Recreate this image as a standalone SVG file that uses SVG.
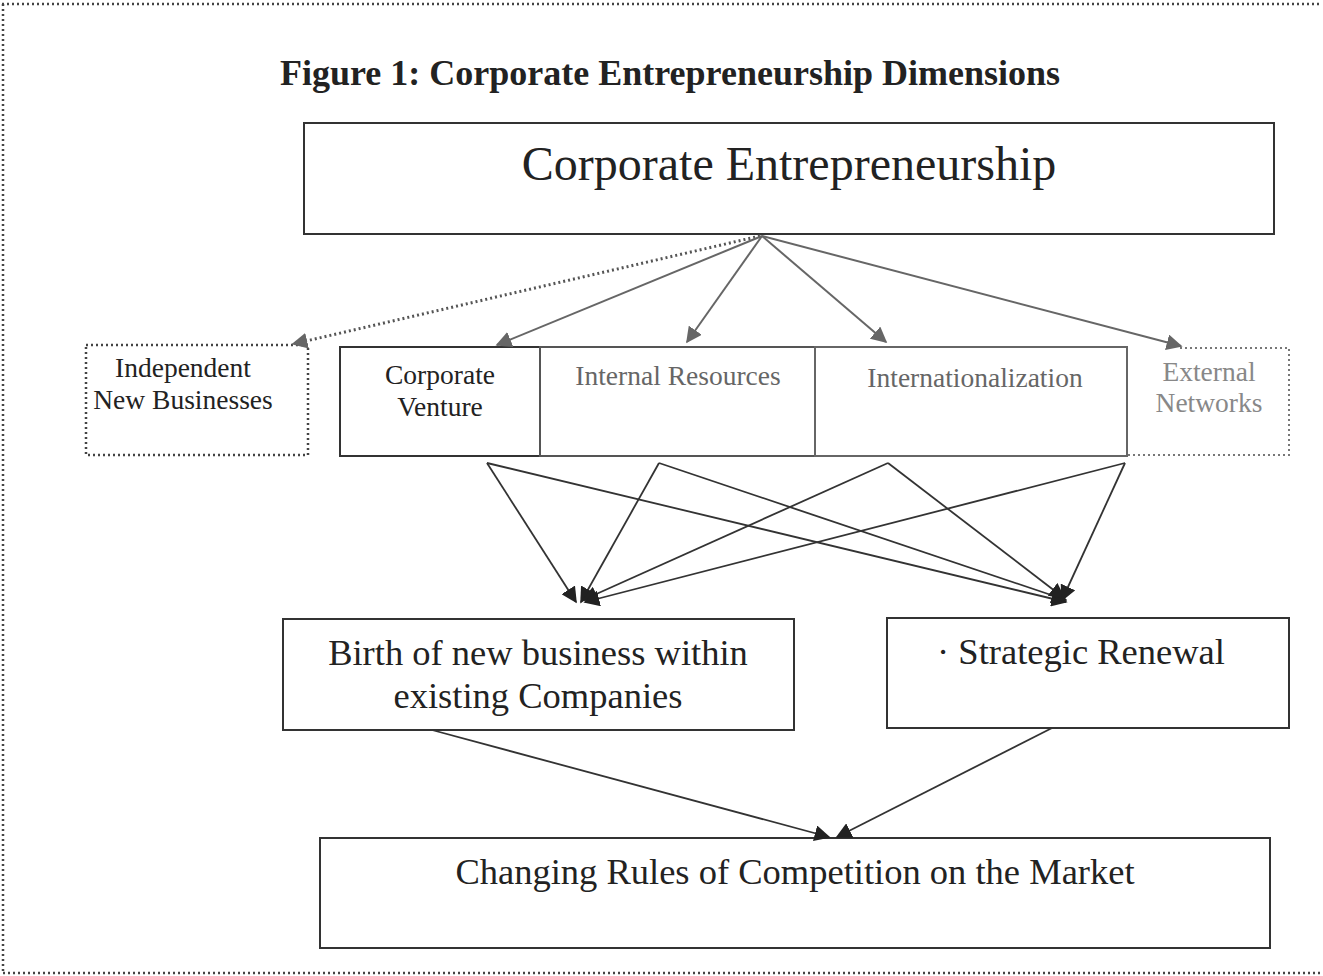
<svg xmlns="http://www.w3.org/2000/svg" width="1323" height="976" viewBox="0 0 1323 976">
<defs>
<style>
.box{fill:#fff;stroke:#333;stroke-width:2}
.dot{fill:none;stroke:#444;stroke-width:2.5;stroke-dasharray:2 3}
.t{font-family:"Liberation Serif",serif;fill:#222;text-anchor:middle}
.s{font-size:27.5px}
.m{font-size:36.5px}
.g{fill:#666}
.lg{fill:#888}
.fan{stroke:#666;stroke-width:2;fill:none}
.x{stroke:#333;stroke-width:1.8;fill:none}
</style>
<marker id="ad" viewBox="0 0 10 10" refX="9" refY="5" markerWidth="16" markerHeight="16" markerUnits="userSpaceOnUse" orient="auto"><path d="M0,0L10,5L0,10z" fill="#222"/></marker>
<marker id="agb" viewBox="0 0 10 10" refX="9" refY="5" markerWidth="16" markerHeight="16" markerUnits="userSpaceOnUse" orient="auto"><path d="M0,0L10,5L0,10z" fill="#666"/></marker>
</defs>
<rect width="1323" height="976" fill="#fff"/>
<g id="frame">
<line x1="2" y1="4" x2="1320" y2="4" class="dot"/>
<line x1="3" y1="4" x2="3" y2="973" class="dot"/>
<line x1="3" y1="973" x2="1320" y2="973" class="dot"/>
</g>
<text class="t" x="670" y="85" font-size="36" font-weight="bold">Figure 1: Corporate Entrepreneurship Dimensions</text>
<g id="ce">
<rect class="box" x="304" y="123" width="970" height="111"/>
<text class="t" x="789" y="180" font-size="48">Corporate Entrepreneurship</text>
</g>
<g id="inb">
<rect class="dot" x="86" y="345" width="222" height="110"/>
<text class="t s" x="183" y="377">Independent</text>
<text class="t s" x="183" y="409">New Businesses</text>
</g>
<g id="cv">
<rect class="box" x="340" y="347" width="200" height="109"/>
<text class="t s" x="440" y="384">Corporate</text>
<text class="t s" x="440" y="416">Venture</text>
</g>
<g id="ir">
<rect x="540" y="347" width="275" height="109" fill="#fff" stroke="#555" stroke-width="2"/>
<text class="t s g" x="678" y="385">Internal Resources</text>
</g>
<g id="intl">
<rect x="815" y="347" width="312" height="109" fill="#fff" stroke="#666" stroke-width="2"/>
<text class="t s g" x="975" y="387">Internationalization</text>
</g>
<g id="en">
<path d="M1180,348 H1289 V455 H1127" fill="none" stroke="#777" stroke-width="2" stroke-dasharray="2 3"/>
<text class="t s lg" x="1209" y="381">External</text>
<text class="t s lg" x="1209" y="412">Networks</text>
</g>
<g id="birth">
<rect class="box" x="283" y="619" width="511" height="111"/>
<text class="t m" x="538" y="665">Birth of new business within</text>
<text class="t m" x="538" y="708">existing Companies</text>
</g>
<g id="sr">
<rect class="box" x="887" y="618" width="402" height="110"/>
<text class="t m" x="1081" y="664">· Strategic Renewal</text>
</g>
<g id="crc">
<rect class="box" x="320" y="838" width="950" height="110"/>
<text class="t m" x="795" y="884">Changing Rules of Competition on the Market</text>
</g>
<g id="connectors">
<line x1="760" y1="236" x2="293" y2="344" stroke="#555" stroke-width="3" stroke-dasharray="2 3" marker-end="url(#agb)"/>
<line x1="762" y1="236" x2="497" y2="345" class="fan" marker-end="url(#agb)"/>
<line x1="762" y1="236" x2="687" y2="342" class="fan" marker-end="url(#agb)"/>
<line x1="762" y1="236" x2="886" y2="342" class="fan" marker-end="url(#agb)"/>
<line x1="762" y1="236" x2="1181" y2="346" class="fan" marker-end="url(#agb)"/>
<line x1="487" y1="463" x2="576" y2="602" class="x" marker-end="url(#ad)"/>
<line x1="487" y1="463" x2="1066" y2="602" class="x" marker-end="url(#ad)"/>
<line x1="659" y1="463" x2="581" y2="602" class="x" marker-end="url(#ad)"/>
<line x1="659" y1="463" x2="1066" y2="600" class="x" marker-end="url(#ad)"/>
<line x1="888" y1="463" x2="583" y2="600" class="x" marker-end="url(#ad)"/>
<line x1="888" y1="463" x2="1064" y2="598" class="x" marker-end="url(#ad)"/>
<line x1="1125" y1="463" x2="585" y2="602" class="x" marker-end="url(#ad)"/>
<line x1="1125" y1="463" x2="1062" y2="600" class="x" marker-end="url(#ad)"/>
<line x1="432" y1="730" x2="829" y2="837" class="x" marker-end="url(#ad)"/>
<line x1="1052" y1="728" x2="837" y2="837" class="x" marker-end="url(#ad)"/>
</g>
</svg>
